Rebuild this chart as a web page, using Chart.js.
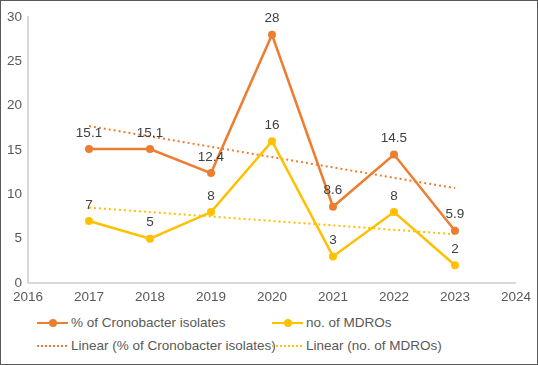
<!DOCTYPE html>
<html>
<head>
<meta charset="utf-8">
<script src="https://cdn.jsdelivr.net/npm/chart.js@4.4.1/dist/chart.umd.min.js"></script>
<style>
  body { margin: 0; background: #fff; }
  #wrap {
    position: relative; width: 538px; height: 365px; box-sizing: border-box;
    border: 1px solid #595959; background: #fff;
    font-family: "Liberation Sans", Arial, sans-serif;
  }
  #box { position: absolute; left: 0; top: 0; width: 536px; height: 310px; }
  .leg { position: absolute; font-size: 13.5px; color: #595959; white-space: nowrap; line-height: 16px; }
  .sym { display: inline-block; position: relative; width: 31px; height: 16px; vertical-align: top; margin-right: 3px; }
  .sym .ln { position: absolute; left: 0; right: 0; top: 7px; height: 2px; }
  .sym .dot { position: absolute; left: 12px; top: 4px; width: 8px; height: 8px; border-radius: 50%; }
</style>
</head>
<body>
<div id="wrap">
  <div id="box"><canvas id="chart1"></canvas></div>
  <div id="legend"></div>
</div>
<script>
// DATA
var years = [2017, 2018, 2019, 2020, 2021, 2022, 2023];
var cronobacter = [15.1, 15.1, 12.4, 28, 8.6, 14.5, 5.9];
var mdros = [7, 5, 8, 16, 3, 8, 2];
// trendline ends (2017 and 2023)
var trendYears = [2017, 2023];
var cronobacterTrend = [17.7, 10.7];
var mdrosTrend = [8.5, 5.5];
var xTicks = [2016, 2017, 2018, 2019, 2020, 2021, 2022, 2023, 2024];
var yTicks = [0, 5, 10, 15, 20, 25, 30];

var ORANGE = '#ed7d31';
var YELLOW = '#ffc000';

function pts(xs, ys) {
    return xs.map(function (x, i) { return { x: x, y: ys[i] }; });
}

// simple value labels above the points
var valueLabels = {
    id: 'valueLabels',
    afterDatasetsDraw: function (chart) {
        var ctx = chart.ctx;
        ctx.save();
        ctx.font = '13.5px "Liberation Sans", Arial, sans-serif';
        ctx.fillStyle = '#404040';
        ctx.textAlign = 'center';
        ctx.textBaseline = 'middle';
        chart.data.datasets.forEach(function (ds, di) {
            if (!ds.showValues) return;
            chart.getDatasetMeta(di).data.forEach(function (el, i) {
                ctx.fillText(String(ds.data[i].y), el.x, el.y - 16);
            });
        });
        ctx.restore();
    }
};

var ctxChart1 = document.getElementById('chart1').getContext('2d');
var chart1 = new Chart(ctxChart1, {
    type: 'line',
    plugins: [valueLabels],
    data: {
        datasets: [{
            label: '% of Cronobacter isolates',
            data: pts(years, cronobacter),
            borderColor: ORANGE,
            backgroundColor: ORANGE,
            borderWidth: 2.5,
            pointRadius: 4,
            pointBorderWidth: 0,
            showValues: true,
            order: 1
        }, {
            label: 'no. of MDROs',
            data: pts(years, mdros),
            borderColor: YELLOW,
            backgroundColor: YELLOW,
            borderWidth: 2.5,
            pointRadius: 4,
            pointBorderWidth: 0,
            showValues: true,
            order: 2
        }, {
            label: 'Linear (% of Cronobacter isolates)',
            data: pts(trendYears, cronobacterTrend),
            borderColor: ORANGE,
            borderWidth: 2,
            borderDash: [2, 3],
            pointRadius: 0,
            order: 3
        }, {
            label: 'Linear (no. of MDROs)',
            data: pts(trendYears, mdrosTrend),
            borderColor: YELLOW,
            borderWidth: 2,
            borderDash: [2, 3],
            pointRadius: 0,
            order: 4
        }]
    },
    options: {
        responsive: true,
        maintainAspectRatio: false,
        animation: false,
        layout: { padding: { top: 16, right: 20, left: 0, bottom: 0 } },
        plugins: {
            legend: { display: false },
            title: { display: false },
            tooltip: { enabled: false }
        },
        scales: {
            x: {
                type: 'linear',
                min: xTicks[0],
                max: xTicks[xTicks.length - 1],
                afterBuildTicks: function (s) { s.ticks = xTicks.map(function (v) { return { value: v }; }); },
                afterFit: function (s) { s.height = 28; },
                grid: { display: false, drawTicks: false },
                border: { display: true, color: '#d9d9d9', width: 2 },
                ticks: {
                    padding: 6,
                    color: '#595959',
                    font: { family: '"Liberation Sans", Arial, sans-serif', size: 13.5 },
                    callback: function (v) { return String(v); }
                }
            },
            y: {
                min: yTicks[0],
                max: yTicks[yTicks.length - 1],
                afterBuildTicks: function (s) { s.ticks = yTicks.map(function (v) { return { value: v }; }); },
                afterFit: function (s) { s.width = 27; },
                grid: { display: false, drawTicks: false },
                border: { display: true, color: '#d9d9d9', width: 2 },
                ticks: {
                    padding: 6,
                    color: '#595959',
                    font: { family: '"Liberation Sans", Arial, sans-serif', size: 13.5 }
                }
            }
        }
    }
});

// LEGEND (two columns, two rows)
var legendPos = [[36, 314], [271, 314], [36, 337], [271, 337]];
var legendHtml = '';
chart1.data.datasets.forEach(function (ds, i) {
    var c = ds.borderColor;
    var line = ds.borderDash
        ? '<span class="ln" style="background:repeating-linear-gradient(90deg,' + c + ' 0 2px,transparent 2px 4px)"></span>'
        : '<span class="ln" style="background:' + c + '"></span><span class="dot" style="background:' + c + '"></span>';
    legendHtml += '<div class="leg" style="left:' + legendPos[i][0] + 'px;top:' + legendPos[i][1] + 'px">' +
        '<span class="sym">' + line + '</span>' + ds.label + '</div>';
});
document.getElementById('legend').innerHTML = legendHtml;
</script>
</body>
</html>
